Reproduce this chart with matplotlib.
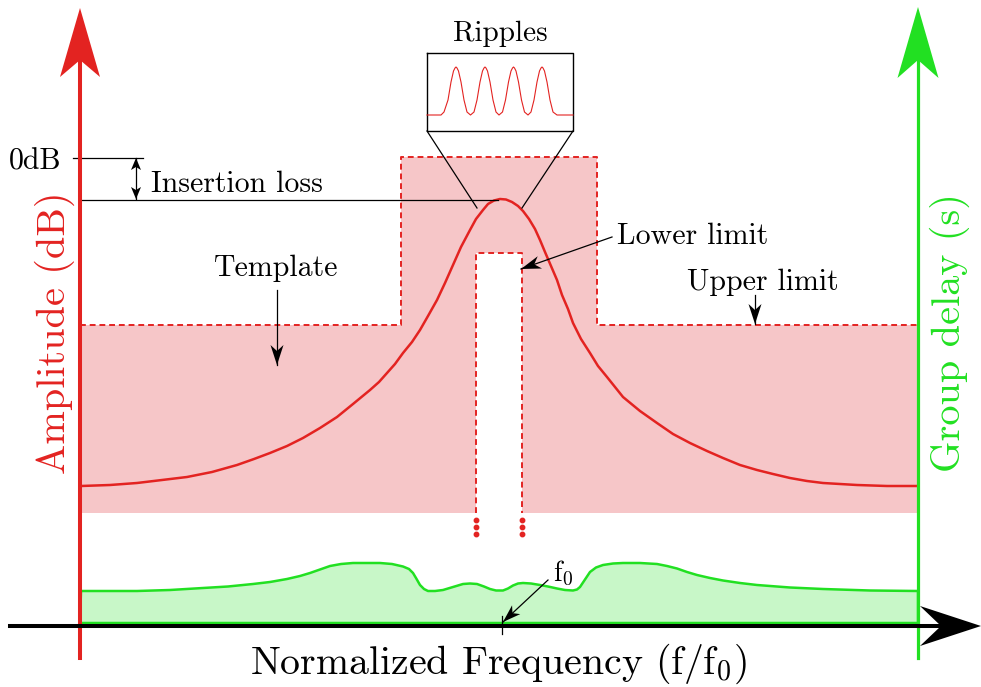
import matplotlib.pyplot as plt

"""Filter template sketch: amplitude template + group delay"""

plt.rcParams['font.family'] = 'cmr10'
plt.rcParams['mathtext.fontset'] = 'cm'
plt.rcParams['axes.unicode_minus'] = False

RED = '#e32321'
PINK = '#f6c6c8'
GREEN = '#22e022'
LIGHT_GREEN = '#c8f7c8'

# the sketch lives on a 981 x 687 canvas, y grows downwards
f_left, f_right = 80, 918
f_zero = 502
axis_y = 626

# template: upper limit outline and lower limit notch
upper_x = [80, 401, 401, 597, 597, 918]
upper_y = [325, 325, 157, 157, 325, 325]
lower_x = [476, 476, 522, 522]
lower_y = [513, 253, 253, 513]
template_floor = 513
dots_y = [520, 527, 534]

# amplitude response
amp_x = [81, 110, 137, 162, 187, 212, 237, 254, 270, 287, 303, 320, 337, 353,
         370, 379, 387, 395, 403, 412, 420, 428, 437, 445, 453, 461, 470, 476,
         483, 488, 494, 500, 506, 512, 518, 523, 529, 535, 540, 545, 551, 557,
         562, 568, 573, 581, 590, 598, 607, 615, 623, 640, 657, 673, 690, 707,
         723, 740, 757, 773, 790, 807, 823, 840, 857, 887, 918]
amp_y = [486, 485, 483, 480, 477, 472, 465, 459, 453, 446, 438, 428, 417, 404,
         390, 382, 373, 364, 353, 342, 330, 316, 300, 283, 265, 247, 230, 219,
         210, 204, 200.5, 199, 199.5, 202, 206, 211, 219, 229, 240, 252, 266, 280,
         295, 309, 323, 339, 353, 366, 377, 387, 397, 411, 423, 434, 443, 451,
         458, 465, 470, 474, 478, 481, 483, 484, 485, 486, 486]

# group delay
gd_x = [81, 137, 170, 203, 228, 253, 270, 287, 300, 310, 320, 330, 341, 353,
        367, 380, 392, 403, 409, 413, 416, 420, 424, 428, 435, 443, 453, 463,
        470, 477, 484, 490, 496, 503, 508, 513, 518, 523, 531, 540, 548, 557,
        565, 573, 577, 580, 584, 590, 596, 603, 613, 623, 640, 657, 667, 677,
        687, 697, 710, 723, 740, 757, 790, 823, 870, 918]
gd_y = [591, 591, 590, 588, 586.5, 584, 582, 579, 576, 573, 569.5, 566, 564, 563,
        563, 563, 564, 566.5, 569, 573, 578, 585, 589, 591, 591, 590, 587, 584,
        583.5, 584, 586.5, 589, 590.5, 590.5, 588.5, 585.5, 583.5, 583, 583.5, 585, 586.5, 588.5,
        590, 590.5, 589.5, 587, 581, 572, 567.5, 565, 563.5, 563, 563, 564, 566, 568.5,
        572, 575, 578, 580.5, 583, 585, 587.5, 589, 590.5, 591]
gd_floor = 623

# ripple inset
ripple_x = [427, 441, 444, 448, 451, 453.5, 455, 456, 457, 458.5, 461, 464, 467,
            470.5, 474, 477, 480, 482.5, 484, 485, 486, 487.5, 490, 493, 496,
            499, 502.5, 505.5, 508.5, 511, 512.5, 513.5, 514.5, 516, 518.5,
            521.5, 524.5, 528, 531, 534, 537, 539.5, 541, 542, 543, 544.5, 547,
            550, 553, 557, 573]
ripple_y = [115, 115, 112, 100, 82, 71, 68, 67, 68, 71, 82, 100, 112,
            115, 112, 100, 82, 71, 68, 67, 68, 71, 82, 100, 112,
            115, 112, 100, 82, 71, 68, 67, 68, 71, 82,
            100, 112, 115, 112, 100, 82, 71, 68, 67, 68, 71, 82,
            100, 112, 115, 115]
ripple_box = (427, 53, 573, 131)


def head(ax, x, y, dx, dy, color, length, half, notch, z=5):
    n = (dx * dx + dy * dy) ** 0.5
    ux, uy = dx / n, dy / n
    px, py = -uy, ux
    bx, by = x - ux * length, y - uy * length
    pts = [(x, y), (bx + px * half, by + py * half),
           (x - ux * (length - notch), y - uy * (length - notch)),
           (bx - px * half, by - py * half)]
    ax.fill([p[0] for p in pts], [p[1] for p in pts], color=color, lw=0, zorder=z)


def arrow(ax, x0, y0, x1, y1, color='k', lw=0.9, length=20, half=6.5, notch=6, both=False):
    ax.plot([x0, x1], [y0, y1], color=color, lw=lw, zorder=5)
    head(ax, x1, y1, x1 - x0, y1 - y0, color, length, half, notch)
    if both:
        head(ax, x0, y0, x0 - x1, y0 - y1, color, length, half, notch)


def main():
    fig = plt.figure(figsize=(9.81, 6.87), dpi=100)
    ax = fig.add_axes([0, 0, 1, 1])
    ax.set_xlim(0, 981)
    ax.set_ylim(687, 0)
    ax.axis('off')

    # template fill with the lower limit cut out
    tx = [f_left] + upper_x + [f_right] + lower_x[::-1]
    ty = [template_floor] + upper_y + [template_floor] + lower_y[::-1]
    ax.fill(tx, ty, color=PINK, lw=0, zorder=1)
    ax.plot(upper_x, upper_y, color=RED, lw=1.4, ls=(0, (3, 2)), zorder=2)
    ax.plot(lower_x, lower_y, color=RED, lw=1.4, ls=(0, (3, 2)), zorder=2)
    for x in [lower_x[0], lower_x[-1]]:
        ax.plot([x] * len(dots_y), dots_y, 'o', color=RED, ms=3.2, zorder=2)

    ax.plot(amp_x, amp_y, color=RED, lw=1.8, zorder=3, solid_joinstyle='round')

    # group delay
    ax.fill(gd_x + [f_right, f_left], gd_y + [gd_floor, gd_floor],
            facecolor=LIGHT_GREEN, edgecolor=GREEN, lw=1.8, zorder=2,
            joinstyle='round')

    # axes
    ax.plot([f_left, f_left], [658, 60], color=RED, lw=2.9, zorder=6)
    head(ax, f_left, 8, 0, -1, RED, 69, 20, 17, z=6)
    ax.plot([f_right, f_right], [658, 60], color=GREEN, lw=2.3, zorder=6)
    head(ax, f_right, 7, 0, -1, GREEN, 71, 20.5, 18, z=6)
    ax.plot([10, 945], [axis_y, axis_y], color='k', lw=2.9, zorder=6)
    head(ax, 981, axis_y, 1, 0, 'k', 61, 20, 21, z=6)
    ax.plot([f_zero, f_zero], [616, 634], color='k', lw=0.9, zorder=6)

    # ripples inset
    x0, y0, x1, y1 = ripple_box
    ax.plot([x0, x1, x1, x0, x0], [y0, y0, y1, y1, y0], color='k', lw=1.0, zorder=4)
    ax.plot(ripple_x, ripple_y, color=RED, lw=0.8, zorder=4)
    ax.plot([x0, 477], [y1, 208], color='k', lw=0.9, zorder=4)
    ax.plot([x1, 522], [y1, 208], color='k', lw=0.9, zorder=4)
    ax.text(500, 41, 'Ripples', fontsize=21, ha='center', va='baseline')

    # insertion loss
    ax.plot([73, 143], [157.5, 157.5], color='k', lw=0.9, zorder=4)
    ax.plot([f_left, 498], [199.5, 199.5], color='k', lw=0.9, zorder=4)
    arrow(ax, 136, 158, 136, 199, length=12, half=5, notch=3, both=True)
    ax.text(62, 169, '0dB', fontsize=21.5, ha='right', va='baseline')
    ax.text(151, 192.5, 'Insertion loss', fontsize=21.5, ha='left', va='baseline')

    # labels
    ax.text(276, 276.5, 'Template', fontsize=21.5, ha='center', va='baseline')
    arrow(ax, 277, 290, 277, 365)
    ax.text(617, 244, 'Lower limit', fontsize=21.5, ha='left', va='baseline')
    arrow(ax, 612, 237, 521, 269)
    ax.text(763, 290, 'Upper limit', fontsize=21.5, ha='center', va='baseline')
    arrow(ax, 755, 295, 755, 324)
    ax.text(553, 581, r'f$_\mathrm{0}$', fontsize=20, ha='left', va='baseline')
    arrow(ax, 548, 580, 503, 622, length=18, half=6, notch=5)

    ax.text(499, 674, r'Normalized Frequency (f/f$_\mathrm{0}$)', fontsize=28.7,
            ha='center', va='baseline')
    ax.text(65, 333, 'Amplitude (dB)', fontsize=29, color=RED, rotation=90,
            rotation_mode='anchor', ha='center', va='baseline')
    ax.text(960, 333, 'Group delay (s)', fontsize=29, color=GREEN, rotation=90,
            rotation_mode='anchor', ha='center', va='baseline')

    fig.savefig('out.png', dpi=100)


if __name__ == "__main__":
    main()
